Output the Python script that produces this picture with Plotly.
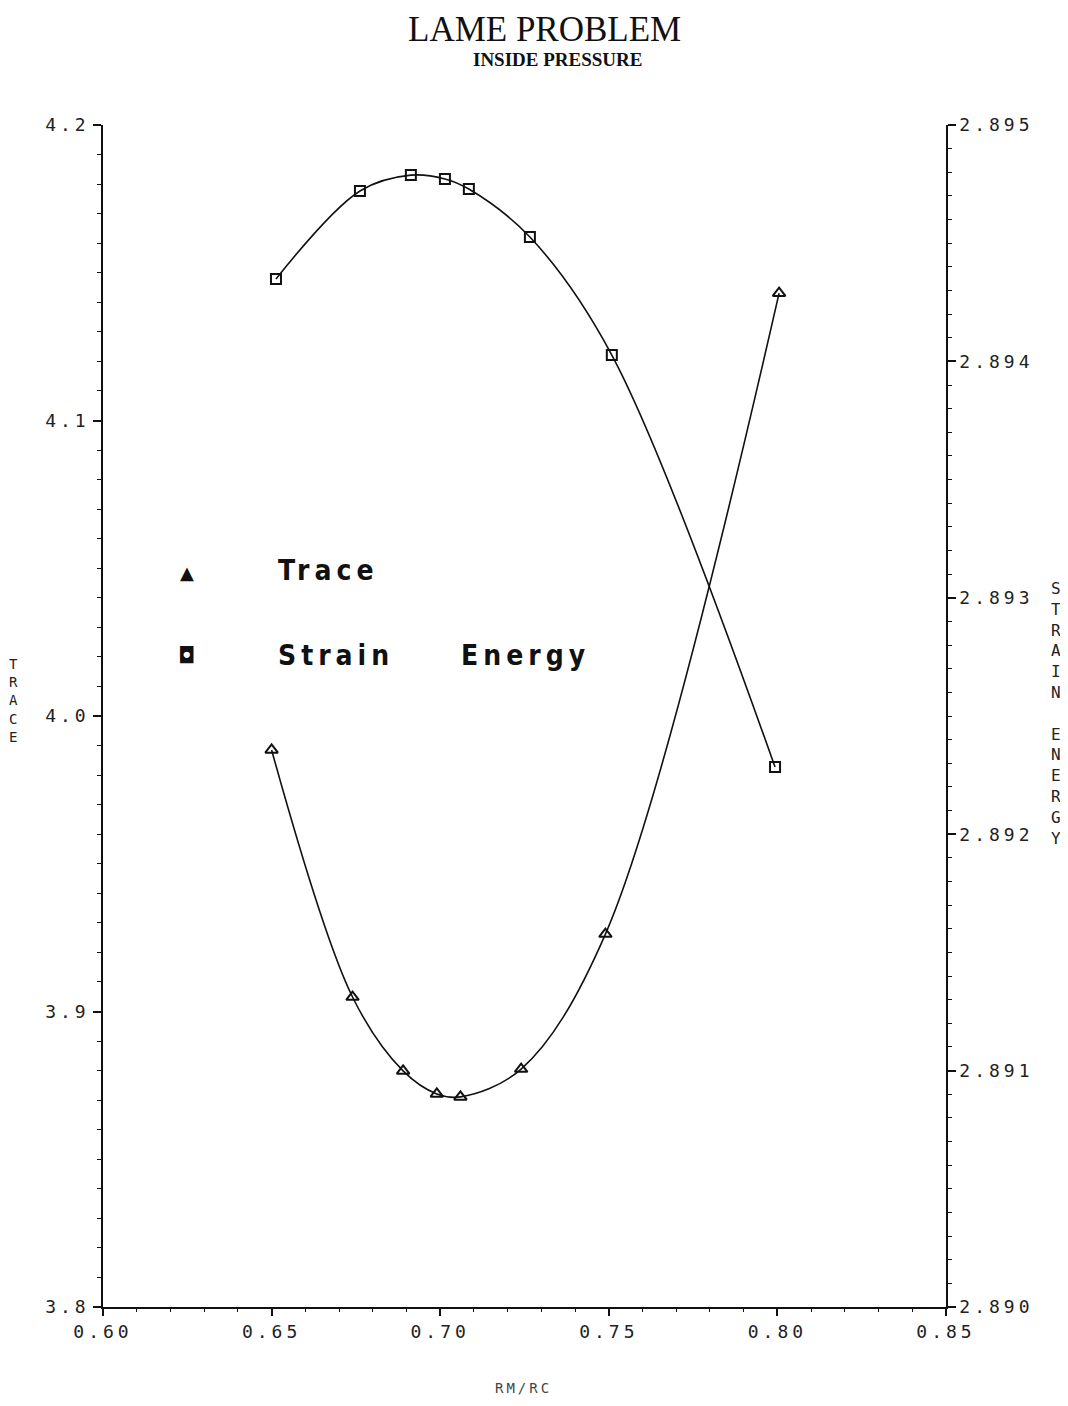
import plotly.graph_objects as go

# Trace (left axis)
trace_x = [0.650, 0.674, 0.689, 0.699, 0.706, 0.724, 0.749, 0.8005]
trace_y = [3.9885, 3.9049, 3.8799, 3.8721, 3.8711, 3.8805, 3.9262, 4.1431]

# Strain energy (right axis)
energy_x = [0.6513, 0.6762, 0.6913, 0.7014, 0.7085, 0.7266, 0.7509, 0.7993]
energy_y = [2.894349, 2.894721, 2.894788, 2.894772, 2.894729, 2.894526, 2.894027, 2.892284]

x_ticks = [0.60, 0.65, 0.70, 0.75, 0.80, 0.85]
left_ticks = [3.8, 3.9, 4.0, 4.1, 4.2]
right_ticks = [2.890, 2.891, 2.892, 2.893, 2.894, 2.895]

MONO = "DejaVu Sans Mono"
INK = "#111111"


def spaced(s, px=3):
    return f'<span style="letter-spacing:{px}px">{s}</span>'


def note(fig, x, y, text, font, xanchor='center'):
    fig.add_annotation(x=x, y=y, xref='paper', yref='paper', showarrow=False,
                       xanchor=xanchor, yanchor='middle', text=text, font=font,
                       borderpad=0)


fig = go.Figure()

fig.add_trace(go.Scatter(
    x=trace_x, y=trace_y, mode='lines+markers', name='Trace',
    line=dict(color=INK, width=1.6, shape='spline', smoothing=1.0),
    marker=dict(symbol='triangle-up-open', size=11, color=INK, line=dict(width=2, color=INK)),
    yaxis='y',
))
fig.add_trace(go.Scatter(
    x=energy_x, y=energy_y, mode='lines+markers', name='Strain Energy',
    line=dict(color=INK, width=1.6, shape='spline', smoothing=1.0),
    marker=dict(symbol='square-open', size=10, color=INK, line=dict(width=2, color=INK)),
    yaxis='y2',
))

tickfont = dict(family=MONO, size=18, color='#222222')

fig.update_layout(
    width=1068, height=1406,
    margin=dict(l=95, r=130, t=117, b=107),
    paper_bgcolor='white', plot_bgcolor='white',
    showlegend=False,
    xaxis=dict(
        range=[0.60, 0.85], showgrid=False, zeroline=False,
        showline=True, linecolor=INK, linewidth=2,
        tickvals=x_ticks, ticktext=[spaced(f"{v:.2f}", 4) for v in x_ticks],
        ticks='outside', ticklen=7, tickwidth=1.5, tickcolor=INK,
        tickfont=tickfont,
        minor=dict(dtick=0.01, ticks='outside', ticklen=3, tickcolor=INK, tickwidth=1),
    ),
    yaxis=dict(
        range=[3.8, 4.2], showgrid=False, zeroline=False,
        showline=True, linecolor=INK, linewidth=1.5,
        tickvals=left_ticks, ticktext=[spaced(f"{v:.1f}", 4) for v in left_ticks],
        ticks='outside', ticklen=8, tickwidth=1.5, tickcolor=INK,
        tickfont=tickfont,
        minor=dict(dtick=0.01, ticks='outside', ticklen=4, tickcolor=INK, tickwidth=1.2),
    ),
    yaxis2=dict(
        range=[2.890, 2.895], overlaying='y', side='right', anchor='x',
        showgrid=False, zeroline=False,
        showline=True, linecolor=INK, linewidth=1.5,
        tickvals=right_ticks, ticktext=[spaced(f"{v:.3f}", 4) for v in right_ticks],
        ticks='outside', ticklen=8, tickwidth=1.5, tickcolor=INK,
        tickfont=tickfont,
        minor=dict(dtick=0.0001, ticks='outside', ticklen=4, tickcolor=INK, tickwidth=1.2),
    ),
)

# Title and subtitle
note(fig, 0.524, 1.0804, 'LAME PROBLEM', dict(family='Liberation Serif', size=35, color=INK))
note(fig, 0.5386, 1.0550, '<b>INSIDE PRESSURE</b>', dict(family='Liberation Serif', size=19, color=INK))

# Axis titles
note(fig, -0.1056, 0.5135, '<br>'.join('TRACE'), dict(family=MONO, size=14, color='#222222'))
note(fig, 1.1305, 0.5017, '<br>'.join('STRAIN ENERGY'.replace(' ', '\u00a0')),
     dict(family=MONO, size=16, color='#222222'))
note(fig, 0.4994, -0.0685, spaced('RM/RC', 3), dict(family=MONO, size=14, color='#444444'))

# Legend block
legend_font = dict(family='DejaVu Sans Condensed', size=28, color=INK)
note(fig, 0.0996, 0.6218, '▲', dict(family='DejaVu Sans', size=18, color=INK))
note(fig, 0.0996, 0.5516, '◘', dict(family='DejaVu Sans', size=22, color=INK))
note(fig, 0.2064, 0.6235, '<b>' + spaced('Trace', 5) + '</b>', legend_font, xanchor='left')
note(fig, 0.2064, 0.5516, '<b>' + spaced('Strain', 5) + '</b>', legend_font, xanchor='left')
note(fig, 0.4235, 0.5516, '<b>' + spaced('Energy', 5) + '</b>', legend_font, xanchor='left')

fig.write_html("out.html")
